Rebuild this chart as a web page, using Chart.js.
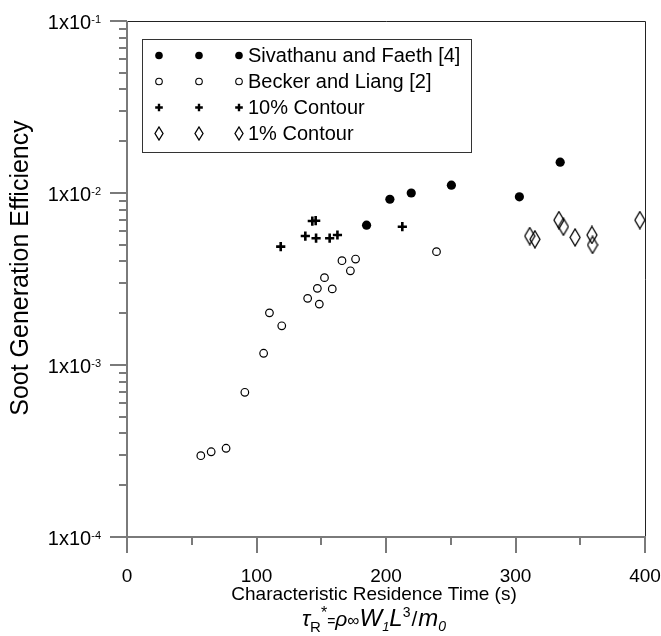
<!DOCTYPE html>
<html>
<head>
<meta charset="utf-8">
<script src="https://cdn.jsdelivr.net/npm/chart.js"></script>
<style>
  html, body { margin: 0; padding: 0; background: #fff; }
  #wrap { width: 661px; height: 636px; }
</style>
</head>
<body>
<div id="wrap"><canvas id="sootChart" width="661" height="636"></canvas></div>
<script>
// Data (x: residence time in s, y: soot generation efficiency)
const sivathanuX = [185, 203, 219.5, 250.5, 303, 334.5];
const sivathanuY = [0.0065, 0.0092, 0.0100, 0.0111, 0.0095, 0.0151];

const beckerX = [57, 65, 76.5, 91, 105.5, 110, 119.5, 139.5, 147, 148.5, 152.5, 158.5, 166, 172.5, 176.5, 239];
const beckerY = [0.000297, 0.000313, 0.000328, 0.000694, 0.00117, 0.00201, 0.00169, 0.00244, 0.00279, 0.00226, 0.00322, 0.00277, 0.00404, 0.00353, 0.00413, 0.00456];

const contour10X = [118.7, 137.7, 143.1, 145.7, 146, 156.5, 162.5, 212.6];
const contour10Y = [0.00488, 0.00562, 0.00687, 0.0069, 0.00546, 0.00546, 0.0057, 0.00637];

const contour1X = [311, 315, 333.5, 337, 346, 359, 359.5, 396];
const contour1Y = [0.00562, 0.00538, 0.00696, 0.00637, 0.00552, 0.0057, 0.00499, 0.00696];

const seriesNames = ['Sivathanu and Faeth [4]', 'Becker and Liang [2]', '10% Contour', '1% Contour'];
const xTicks = [0, 100, 200, 300, 400];
const yExponents = [-1, -2, -3, -4];

const FONT = '"Liberation Sans", Arial, Helvetica, sans-serif';
const AXIS_GRAY = '#7a7a7a';

const toPoints = (xs, ys) => xs.map((x, i) => ({ x: x, y: ys[i] }));

// tall open diamond marker
function makeDiamond(w, h) {
    const c = document.createElement('canvas');
    c.width = w + 2;
    c.height = h + 2;
    const g = c.getContext('2d');
    g.strokeStyle = '#000';
    g.lineWidth = 1.3;
    g.beginPath();
    g.moveTo(w / 2 + 1, 1);
    g.lineTo(w + 1, h / 2 + 1);
    g.lineTo(w / 2 + 1, h + 1);
    g.lineTo(1, h / 2 + 1);
    g.closePath();
    g.stroke();
    return c;
}
const diamondBig = makeDiamond(10, 17);
const diamondSmall = makeDiamond(8, 13);

// draw text pieces (sub/superscripts) left to right
function drawPieces(ctx, pieces, x, y, align) {
    let total = 0;
    pieces.forEach(p => { ctx.font = p.font; p.w = ctx.measureText(p.t).width + (p.gap || 0); total += p.w; });
    let cx = align === 'center' ? x - total / 2 : (align === 'right' ? x - total : x);
    ctx.textAlign = 'left';
    ctx.textBaseline = 'alphabetic';
    pieces.forEach(p => {
        ctx.font = p.font;
        ctx.fillText(p.t, cx, y + (p.dy || 0));
        cx += p.w;
    });
}

function drawLegendMarker(ctx, kind, x, y) {
    ctx.save();
    ctx.strokeStyle = '#000';
    ctx.fillStyle = '#000';
    if (kind === 0) {
        ctx.beginPath(); ctx.arc(x, y, 3.8, 0, Math.PI * 2); ctx.fill();
    } else if (kind === 1) {
        ctx.lineWidth = 1.1;
        ctx.beginPath(); ctx.arc(x, y, 3.3, 0, Math.PI * 2); ctx.stroke();
    } else if (kind === 2) {
        ctx.lineWidth = 2.4;
        ctx.beginPath();
        ctx.moveTo(x - 3.8, y); ctx.lineTo(x + 3.8, y);
        ctx.moveTo(x, y - 3.8); ctx.lineTo(x, y + 3.8);
        ctx.stroke();
    } else {
        ctx.drawImage(diamondSmall, Math.round(x - diamondSmall.width / 2), Math.round(y - diamondSmall.height / 2));
    }
    ctx.restore();
}

const framePlugin = {
    id: 'frame',
    beforeDatasetsDraw(chart) {
        const ctx = chart.ctx;
        const a = chart.chartArea;
        const xs = chart.scales.x, ys = chart.scales.y;
        ctx.save();

        // top and right borders
        ctx.strokeStyle = '#222';
        ctx.lineWidth = 1;
        ctx.beginPath();
        ctx.moveTo(a.left, a.top + 0.5); ctx.lineTo(a.right + 0.5, a.top + 0.5);
        ctx.lineTo(a.right + 0.5, a.bottom);
        ctx.stroke();

        // left & bottom axes, gray
        ctx.strokeStyle = AXIS_GRAY;
        ctx.lineWidth = 2;
        ctx.beginPath();
        ctx.moveTo(a.left, a.top); ctx.lineTo(a.left, a.bottom);
        ctx.moveTo(a.left, a.bottom); ctx.lineTo(a.right + 1, a.bottom);
        ctx.stroke();

        // y ticks (log, major + minor)
        ctx.beginPath();
        for (let e = -4; e <= -1; e++) {
            for (let m = 1; m <= 9; m++) {
                if (e === -1 && m > 1) break;
                const py = Math.round(ys.getPixelForValue(m * Math.pow(10, e)));
                const len = m === 1 ? 17 : 8;
                ctx.moveTo(a.left - len, py);
                ctx.lineTo(a.left, py);
            }
        }
        // x ticks
        for (let v = 0; v <= 400; v += 50) {
            const px = Math.round(xs.getPixelForValue(v));
            const len = v % 100 === 0 ? 16 : 8;
            ctx.moveTo(px, a.bottom);
            ctx.lineTo(px, a.bottom + len);
        }
        ctx.stroke();

        ctx.fillStyle = '#000';
        // y tick labels 1x10^n
        yExponents.forEach(e => {
            const py = ys.getPixelForValue(Math.pow(10, e));
            drawPieces(ctx, [
                { t: '1x10', font: '20px ' + FONT },
                { t: String(e), font: '11px ' + FONT, dy: -6 }
            ], 101, py + 8, 'right');
        });

        // x tick labels
        ctx.font = '19px ' + FONT;
        ctx.textAlign = 'center';
        ctx.textBaseline = 'alphabetic';
        xTicks.forEach(v => {
            ctx.fillText(String(v), xs.getPixelForValue(v), 582);
        });

        // x title, two lines
        ctx.fillText('Characteristic Residence Time (s)', 374, 600);
        const it = 'italic ';
        drawPieces(ctx, [
            { t: '\u03C4', font: it + '22px ' + FONT },
            { t: 'R', font: '15px ' + FONT, dy: 6 },
            { t: '*', font: '16px ' + FONT, dy: -8 },
            { t: '=', font: '14px ' + FONT },
            { t: '\u03C1', font: it + '21px ' + FONT },
            { t: '\u221E', font: '17px ' + FONT },
            { t: 'W', font: it + '24px ' + FONT },
            { t: '1', font: it + '13px ' + FONT, dy: 5 },
            { t: 'L', font: it + '24px ' + FONT },
            { t: '3', font: '14px ' + FONT, dy: -9, gap: 1 },
            { t: '/', font: '21px ' + FONT, gap: 1 },
            { t: 'm', font: it + '24px ' + FONT },
            { t: '0', font: it + '14px ' + FONT, dy: 5 }
        ], 374, 626, 'center');

        // y title
        ctx.save();
        ctx.translate(21, 268);
        ctx.rotate(-Math.PI / 2);
        ctx.font = '25px ' + FONT;
        ctx.textAlign = 'center';
        ctx.textBaseline = 'middle';
        ctx.fillText('Soot Generation Efficiency', 0, 0);
        ctx.restore();

        ctx.restore();
    },
    afterDraw(chart) {
        const ctx = chart.ctx;
        ctx.save();
        // legend box
        ctx.fillStyle = '#fff';
        ctx.fillRect(142, 39, 329, 113);
        ctx.strokeStyle = '#333';
        ctx.lineWidth = 1;
        ctx.strokeRect(142.5, 39.5, 329, 113);
        const rows = [55.5, 81.5, 107.5, 133];
        const cols = [159, 199, 239];
        rows.forEach((ry, i) => {
            cols.forEach(cx => drawLegendMarker(ctx, i, cx, ry));
            ctx.font = '20px ' + FONT;
            ctx.textAlign = 'left';
            ctx.textBaseline = 'middle';
            ctx.fillStyle = '#000';
            ctx.fillText(seriesNames[i], 248, ry + 1);
        });
        ctx.restore();
    }
};

new Chart(document.getElementById('sootChart'), {
    type: 'scatter',
    data: {
        datasets: [
            { label: seriesNames[0], data: toPoints(sivathanuX, sivathanuY), pointStyle: 'circle', pointRadius: 4.6, backgroundColor: '#000', borderColor: '#000', borderWidth: 0 },
            { label: seriesNames[1], data: toPoints(beckerX, beckerY), pointStyle: 'circle', pointRadius: 3.8, backgroundColor: 'rgba(0,0,0,0)', borderColor: '#000', borderWidth: 1.2 },
            { label: seriesNames[2], data: toPoints(contour10X, contour10Y), pointStyle: 'cross', pointRadius: 4.6, borderColor: '#000', borderWidth: 2.6 },
            { label: seriesNames[3], data: toPoints(contour1X, contour1Y), pointStyle: diamondBig, borderColor: '#000' }
        ]
    },
    options: {
        responsive: false,
        animation: false,
        clip: false,
        layout: { padding: { top: 21, right: 16, left: 0, bottom: 0 } },
        plugins: { legend: { display: false }, tooltip: { enabled: false } },
        elements: { point: { hoverRadius: 0 } },
        scales: {
            x: {
                type: 'linear', min: 0, max: 400,
                grid: { display: false }, border: { display: false }, ticks: { display: false },
                afterFit(s) { s.height = 99; }
            },
            y: {
                type: 'logarithmic', min: 1e-4, max: 1e-1,
                grid: { display: false }, border: { display: false }, ticks: { display: false },
                afterFit(s) { s.width = 127; }
            }
        }
    },
    plugins: [framePlugin]
});
</script>
</body>
</html>
